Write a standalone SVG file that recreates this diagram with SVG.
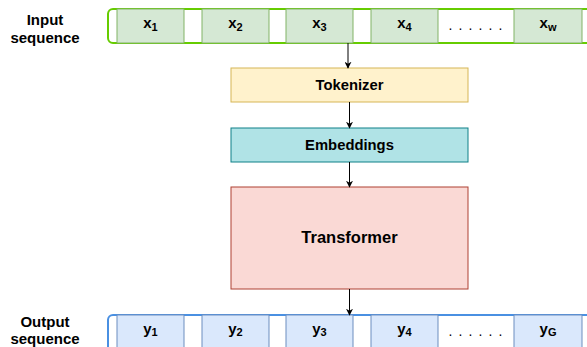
<svg xmlns="http://www.w3.org/2000/svg" width="587" height="347" viewBox="0 0 587 347">
<defs>
<marker id="arr" viewBox="0 0 10 10" refX="9" refY="5" markerWidth="7" markerHeight="7" markerUnits="userSpaceOnUse" orient="auto">
<path d="M0,0 L10,5 L0,10 L3,5 Z" fill="#000"/>
</marker>
</defs>
<style>
text{font-family:"Liberation Sans",Arial,sans-serif;font-weight:bold;fill:#000;text-anchor:middle}
.lbl{font-size:15px}
.cx{fill:#d5e8d4;stroke:#82b366;stroke-width:1}
.cy{fill:#dae8fc;stroke:#6c8ebf;stroke-width:1}
.v{font-size:15px}
.s{font-size:11px}
.dots{font-size:14px;font-weight:normal;letter-spacing:1.1px}
.conn line{stroke:#000;stroke-width:1;marker-end:url(#arr)}
</style>
<g id="input-label">
<text class="lbl" x="45" y="25">Input</text>
<text class="lbl" x="45" y="43">sequence</text>
</g>
<g id="input-seq">
<rect x="108" y="9" width="500" height="34" rx="5" fill="#fff" stroke="#66cc00" stroke-width="2"/>
<rect class="cx" x="117" y="9" width="67" height="34"/>
<rect class="cx" x="202" y="9" width="67" height="34"/>
<rect class="cx" x="286" y="9" width="67" height="34"/>
<rect class="cx" x="371" y="9" width="67" height="34"/>
<rect class="cx" x="514" y="9" width="68" height="34"/>
<text class="v" x="150.5" y="28">x<tspan class="s" dy="3">1</tspan></text>
<text class="v" x="235.5" y="28">x<tspan class="s" dy="3">2</tspan></text>
<text class="v" x="319.5" y="28">x<tspan class="s" dy="3">3</tspan></text>
<text class="v" x="404.5" y="28">x<tspan class="s" dy="3">4</tspan></text>
<text class="dots" x="476" y="30">. . . . . .</text>
<text class="v" x="548" y="28">x<tspan class="s" dy="3">w</tspan></text>
</g>
<g id="tokenizer">
<rect x="231" y="68" width="237" height="34" fill="#fff2cc" stroke="#d6b656"/>
<text x="349.5" y="90" style="font-size:14.8px">Tokenizer</text>
</g>
<g id="embeddings">
<rect x="231" y="128" width="237" height="34" fill="#b0e3e6" stroke="#0e8088"/>
<text x="349.5" y="150" style="font-size:14.8px">Embeddings</text>
</g>
<g id="transformer">
<rect x="231" y="187" width="237" height="102" fill="#fad9d5" stroke="#ae4132"/>
<text x="349.5" y="243" style="font-size:16.5px">Transformer</text>
</g>
<g id="output-label">
<text class="lbl" x="45" y="327">Output</text>
<text class="lbl" x="45" y="344">sequence</text>
</g>
<g id="output-seq">
<rect x="108" y="315" width="500" height="40" rx="5" fill="#fff" stroke="#4a90e2" stroke-width="2"/>
<rect class="cy" x="117" y="315" width="67" height="40"/>
<rect class="cy" x="202" y="315" width="67" height="40"/>
<rect class="cy" x="286" y="315" width="67" height="40"/>
<rect class="cy" x="371" y="315" width="67" height="40"/>
<rect class="cy" x="514" y="315" width="68" height="40"/>
<text class="v" x="150.5" y="334">y<tspan class="s" dy="2">1</tspan></text>
<text class="v" x="235.5" y="334">y<tspan class="s" dy="2">2</tspan></text>
<text class="v" x="319.5" y="334">y<tspan class="s" dy="2">3</tspan></text>
<text class="v" x="404.5" y="334">y<tspan class="s" dy="2">4</tspan></text>
<text class="dots" x="476" y="336">. . . . . .</text>
<text class="v" x="548" y="334">y<tspan class="s" dy="2">G</tspan></text>
</g>
<g id="connectors" class="conn">
<line x1="348" y1="43" x2="348" y2="68"/>
<line x1="349.5" y1="102" x2="349.5" y2="128"/>
<line x1="349.5" y1="162" x2="349.5" y2="187"/>
<line x1="349.5" y1="289" x2="349.5" y2="315"/>
</g>
</svg>
